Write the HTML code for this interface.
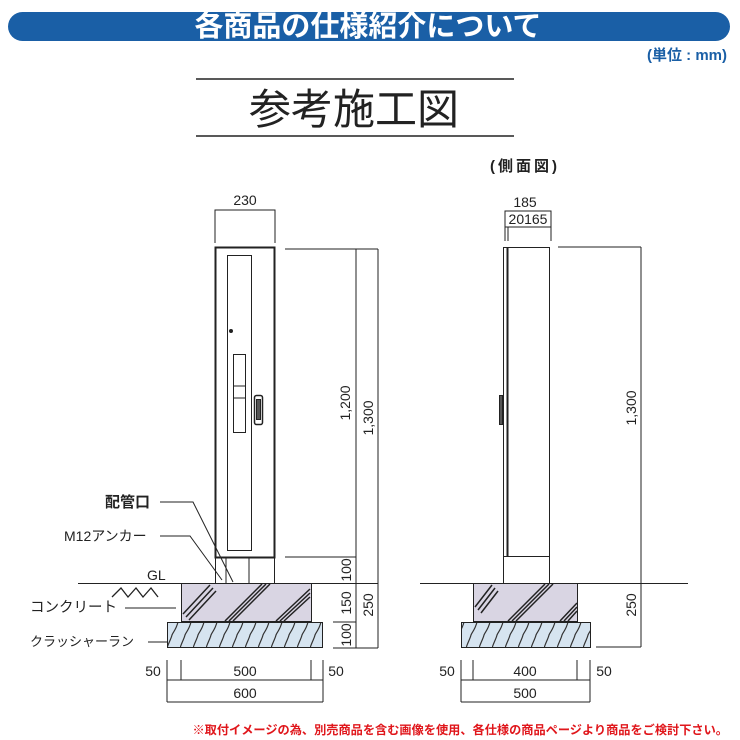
<!DOCTYPE html>
<html><head><meta charset="utf-8"><style>
html,body{margin:0;padding:0;background:#fff;width:740px;height:740px;overflow:hidden}
svg{display:block}
.n{font-family:"Liberation Sans",sans-serif;font-size:14px;fill:#222}
.j{font-family:"Liberation Sans","Noto Sans CJK JP",sans-serif;font-size:13.5px;fill:#222;font-weight:bold}
</style></head><body>
<svg width="740" height="740" viewBox="0 0 740 740" xmlns="http://www.w3.org/2000/svg">
<defs>
<pattern id="cr" width="13" height="26" patternUnits="userSpaceOnUse" x="167" y="622">
<path d="M11,0 C9,8 6,10 5,13 C4,17 2,20 0,26" stroke="#333" stroke-width="1.2" fill="none"/>
</pattern>
</defs>
<rect x="8" y="12" width="722" height="29" rx="14.5" fill="#1a5fa6"/>
<text x="368" y="36" text-anchor="middle" style="font-family:'Liberation Sans','Noto Sans CJK JP',sans-serif;font-size:29px;font-weight:bold;fill:#fff">各商品の仕様紹介について</text>
<text x="727" y="60" text-anchor="end" style="font-family:'Liberation Sans','Noto Sans CJK JP',sans-serif;font-size:15px;font-weight:bold;fill:#1a5fa6">(単位 : mm)</text>
<line x1="196" y1="79" x2="514" y2="79" stroke="#222" stroke-width="1.5"/>
<line x1="196" y1="136" x2="514" y2="136" stroke="#222" stroke-width="1.5"/>
<text x="354" y="124" text-anchor="middle" style="font-family:'Liberation Sans','Noto Sans CJK JP',sans-serif;font-size:42px;fill:#222">参考施工図</text>

<g stroke="#222" fill="none" stroke-width="1">
<line x1="78" y1="583.5" x2="336" y2="583.5"/>
<line x1="420" y1="583.5" x2="688" y2="583.5"/>
<text class="n" x="245" y="205" text-anchor="middle" stroke="none">230</text>
<path d="M215,243 V210 H275 V243"/>
<rect x="215.5" y="247.5" width="59" height="310" stroke-width="2"/>
<rect x="227.5" y="255.5" width="24" height="295"/>
<circle cx="231" cy="331" r="1.5" fill="#222"/>
<rect x="233.5" y="354.5" width="12" height="78"/>
<line x1="233" y1="386" x2="246" y2="386"/><line x1="233" y1="398" x2="246" y2="398"/>
<rect x="254.5" y="395.5" width="8" height="29" rx="2" stroke-width="1.5"/>
<rect x="256.5" y="399.5" width="4" height="20" fill="#555"/>
<rect x="215.5" y="557.5" width="59" height="26"/>
<line x1="226" y1="557" x2="226" y2="583"/><line x1="249" y1="557" x2="249" y2="583"/>
<path d="M160,502 H193 L233,582"/>
<path d="M160,536 H190 L222,580"/>
<path d="M112,597 L121,588 L128,597 L136,588 L143,597 L151,588 L158,597" stroke-width="1.3"/>
<line x1="125" y1="608" x2="176" y2="608"/>
<line x1="148" y1="642" x2="167" y2="642"/>
<rect x="181.5" y="583.5" width="130" height="38" fill="#d9d5e3"/>
<rect x="167.5" y="622.5" width="155" height="25" fill="#d6e4f0"/>
<rect x="167.5" y="622.5" width="155" height="25" fill="url(#cr)"/>
<g stroke-width="1.5">
<path d="M183,614 L210,585 M186,617 L213,588 M189,620 L216,591"/>
<path d="M225,621 L262,584 M229,621 L266,584 M233,621 L270,584"/>
<path d="M276,621 L310,589 M280,621 L310,593 M284,621 L310,597"/>
</g>
<line x1="285" y1="249" x2="378" y2="249"/>
<line x1="356" y1="249" x2="356" y2="648"/>
<line x1="378" y1="249" x2="378" y2="648"/>
<line x1="285" y1="557" x2="356" y2="557"/>
<line x1="336" y1="583.5" x2="378" y2="583.5"/>
<line x1="333" y1="622" x2="356" y2="622"/>
<line x1="333" y1="648" x2="378" y2="648"/>
<path d="M167,660 V702 M181,660 V680 M311,660 V680 M323,660 V702"/>
<line x1="167" y1="680" x2="323" y2="680"/>
<line x1="167" y1="702" x2="323" y2="702"/>
<path d="M505,241 V211 H551 V241"/>
<line x1="505" y1="227" x2="551" y2="227"/>
<line x1="508" y1="227" x2="508" y2="241"/>
<rect x="503.5" y="247.5" width="46" height="309"/>
<line x1="507.5" y1="248" x2="507.5" y2="556" stroke-width="2"/>
<rect x="503.5" y="556.5" width="46" height="27"/>
<rect x="499.5" y="395.5" width="3" height="29" fill="#555"/>
<line x1="558" y1="247" x2="641" y2="247"/>
<line x1="641" y1="247" x2="641" y2="647"/>
<line x1="596" y1="647" x2="641" y2="647"/>
<rect x="473.5" y="583.5" width="104" height="38" fill="#d9d5e3"/>
<rect x="461.5" y="622.5" width="129" height="25" fill="#d6e4f0"/>
<rect x="461.5" y="622.5" width="129" height="25" fill="url(#cr)"/>
<g stroke-width="1.5">
<path d="M475,607 L492,585 M478,610 L495,588 M481,613 L498,591"/>
<path d="M508,621 L545,584 M512,621 L549,584 M516,621 L553,584"/>
<path d="M560,621 L577,603 M564,621 L577,607 M568,621 L577,611"/>
</g>
<path d="M461,660 V680 M473,660 V680 M577,660 V680 M590,660 V680"/>
<line x1="461" y1="680" x2="590" y2="680"/>
<path d="M461,680 V702 M590,680 V702"/>
<line x1="461" y1="702" x2="590" y2="702"/>
</g>
<text class="j" x="105" y="507" style="font-size:15px">配管口</text>
<text class="j" x="64" y="541" style="font-size:14px;font-weight:normal">M12アンカー</text>
<text class="n" x="147" y="580" style="font-size:14px">GL</text>
<text class="j" x="30" y="612" style="font-size:14.5px;font-weight:normal">コンクリート</text>
<text class="j" x="30" y="646" style="font-size:13px;font-weight:normal">クラッシャーラン</text>
<g class="n" style="font-size:14px">
<text transform="translate(350,403) rotate(-90)" text-anchor="middle">1,200</text>
<text transform="translate(373,418) rotate(-90)" text-anchor="middle">1,300</text>
<text transform="translate(351,570) rotate(-90)" text-anchor="middle">100</text>
<text transform="translate(351,603) rotate(-90)" text-anchor="middle">150</text>
<text transform="translate(351,635) rotate(-90)" text-anchor="middle">100</text>
<text transform="translate(373,605) rotate(-90)" text-anchor="middle">250</text>
<text x="153" y="676" text-anchor="middle">50</text>
<text x="245" y="676" text-anchor="middle">500</text>
<text x="336" y="676" text-anchor="middle">50</text>
<text x="245" y="698" text-anchor="middle">600</text>
<text x="525" y="207" text-anchor="middle">185</text>
<text x="528" y="224" text-anchor="middle">20165</text>
<text transform="translate(636,408) rotate(-90)" text-anchor="middle">1,300</text>
<text transform="translate(636,605) rotate(-90)" text-anchor="middle">250</text>
<text x="447" y="676" text-anchor="middle">50</text>
<text x="525" y="676" text-anchor="middle">400</text>
<text x="604" y="676" text-anchor="middle">50</text>
<text x="525" y="698" text-anchor="middle">500</text>
</g>
<text class="j" x="525" y="171" text-anchor="middle" style="font-size:15px;letter-spacing:3px">(側面図)</text>
<text x="728" y="734" text-anchor="end" style="font-family:'Liberation Sans','Noto Sans CJK JP',sans-serif;font-size:12.2px;font-weight:bold;fill:#e0161b">※取付イメージの為、別売商品を含む画像を使用、各仕様の商品ページより商品をご検討下さい。</text>
</svg>
</body></html>
